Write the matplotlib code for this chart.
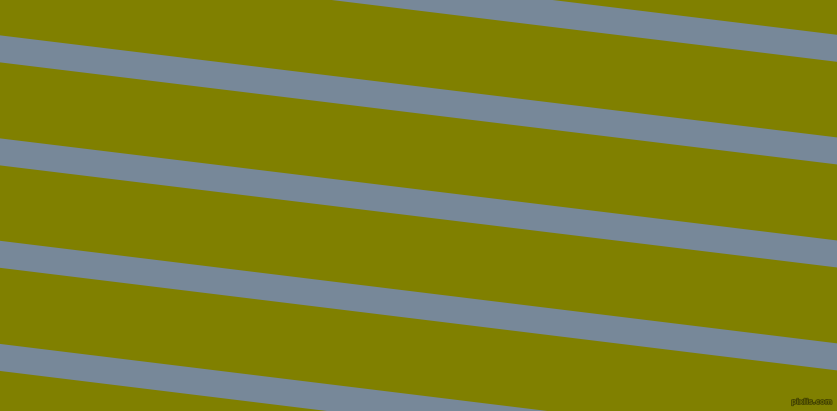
import numpy as np
import matplotlib.pyplot as plt
import matplotlib.patheffects as pe

# stripe centre (pixels from top) at the left and right edges
left_y = [-53.5, 49.3, 152.2, 254.5, 357.5]
right_y = [48.8, 151.3, 254.2, 357.0, 460.0]
stripe_width = 27

W, H = 837, 411
bg_color = "#808000"
stripe_color = "#778899"

fig = plt.figure(figsize=(8.375, 4.115), dpi=100)
fig.patch.set_facecolor(bg_color)
ax = fig.add_axes([0, 0, 1, 1])
ax.set_facecolor(bg_color)
ax.set_xlim(0, W)
ax.set_ylim(H, 0)
ax.axis("off")

xs = np.array([0, W])
for ly, ry in zip(left_y, right_y):
    centre = np.array([ly, ry])
    ax.fill_between(xs, centre - stripe_width / 2, centre + stripe_width / 2,
                    color=stripe_color, linewidth=0)

t = ax.text(832, 402, "pixlis.com", ha="right", va="center", fontsize=5.2,
            color="#6b6b00", fontweight="bold")
t.set_path_effects([pe.withStroke(linewidth=1.0, foreground="#404000")])

fig.savefig("out.png", dpi=100, facecolor=bg_color)
